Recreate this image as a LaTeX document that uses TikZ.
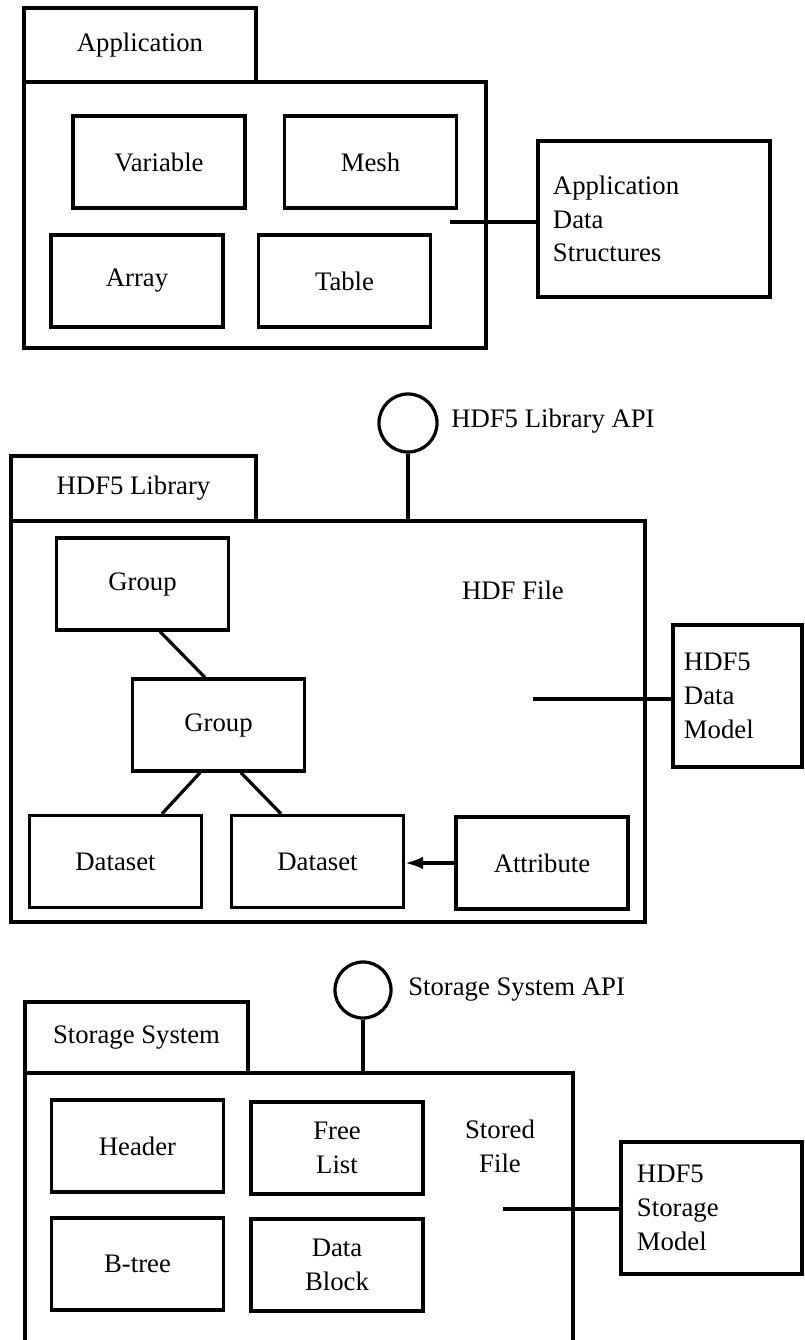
\documentclass[tikz,border=0pt]{standalone}
\usepackage{fontspec}
\setmainfont{Liberation Serif}
\usetikzlibrary{positioning,arrows.meta}
\tikzset{
  thing/.style={draw, line width=2.3pt, minimum width=4.3cm, minimum height=2.3cm, align=center},
  pkgbox/.style={draw, line width=2.3pt, inner sep=0pt},
  modelbox/.style={draw, line width=2.3pt, align=left, inner ysep=0pt},
  port/.style={draw, circle, line width=2.3pt, inner sep=0pt},
  wire/.style={line width=2.3pt}
}
\begin{document}
\begin{tikzpicture}[x=0.025cm, y=-0.025cm, font=\fontsize{19}{24}\selectfont]
\clip (0,0) rectangle (804,1340);
\node[pkgbox, minimum width=5.8cm, minimum height=1.85cm] (apptab) at (140,45) {Application};
\node[pkgbox, minimum width=11.55cm, minimum height=6.65cm] (appbox) at (255,215) {};
\node[thing] (variable) at (159,162) {Variable};
\node[thing] (mesh) at (370.5,162) {Mesh};
\node[thing] (array) at (137,281) {Array};
\node[thing] (table) at (344.5,281) {Table};
\node[modelbox, text width=5.05cm, inner xsep=0.375cm, minimum height=3.9cm] (appdata) at (654,219) {Application\\Data\\Structures};
\coordinate (appjoin) at (450,222);
\draw[wire] (appjoin) -- (appjoin -| appdata.west);

\node[port, minimum size=1.45cm] (libapi) at (408,423) {};
\node[inner sep=0pt, anchor=west] (libapitext) at (451,421) {HDF5 Library API};
\node[pkgbox, minimum width=6.125cm, minimum height=1.625cm] (libtab) at (133.5,488.5) {HDF5 Library};
\node[pkgbox, minimum width=15.85cm, minimum height=10.025cm] (libbox) at (328,721.5) {};
\draw[wire] (libapi.south) -- (libapi |- libbox.north);
\node[thing] (group) at (142.5,584) {Group};
\node (hdffile) at (513,590) {HDF File};
\node[thing] (subgroup) at (218.5,725) {Group};
\node[thing] (dataset) at (115.5,861.5) {Dataset};
\node[thing] (subdataset) at (317.5,861.5) {Dataset};
\node[thing] (attribute) at (542,863) {Attribute};
\draw[wire] ([xshift=0.44cm]group.south) -- ([xshift=-0.34cm]subgroup.north);
\draw[wire] ([xshift=-0.46cm]subgroup.south) -- ([xshift=1.16cm]dataset.north);
\draw[wire] ([xshift=0.56cm]subgroup.south) -- ([xshift=-0.91cm]subdataset.north);
\draw[wire, -{Latex[length=0.45cm, width=0.32cm]}] (attribute.west) -- (attribute.west -| subdataset.east);
\node[modelbox, text width=2.675cm, inner xsep=0.275cm, minimum height=3.55cm] (datamodel) at (737.5,696) {HDF5\\Data\\Model};
\coordinate (libjoin) at (533,699);
\draw[wire] (libjoin) -- (libjoin -| datamodel.west);

\node[port, minimum size=1.4cm] (stapi) at (363,990) {};
\node[inner sep=0pt, anchor=west] (stapitext) at (408,990) {Storage System API};
\node[pkgbox, minimum width=5.575cm, minimum height=1.775cm] (sttab) at (136.5,1037.5) {Storage System};
\node[pkgbox, minimum width=13.7cm, minimum height=7.425cm] (stbox) at (299,1221.5) {};
\draw[wire] (stapi.south) -- (stapi |- stbox.north);
\node[thing] (header) at (137.5,1146) {Header};
\node[thing] (freelist) at (337,1148) {Free\\List};
\node[thing] (btree) at (137.5,1264) {B-tree};
\node[thing] (datablock) at (337,1265) {Data\\Block};
\node[align=center] (storedfile) at (500,1146) {Stored\\File};
\node[modelbox, text width=3.725cm, inner xsep=0.4cm, minimum height=3.3cm] (storagemodel) at (711.5,1208) {HDF5\\Storage\\Model};
\coordinate (stjoin) at (503,1209);
\draw[wire] (stjoin) -- (stjoin -| storagemodel.west);
\end{tikzpicture}
\end{document}
